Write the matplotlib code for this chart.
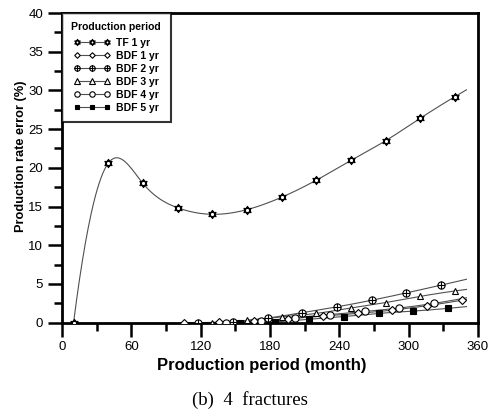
import matplotlib
matplotlib.use('Agg')
import matplotlib.pyplot as plt
import numpy as np
from matplotlib.path import Path
from matplotlib.lines import Line2D

plt.rcParams['font.family'] = ['Liberation Sans', 'DejaVu Sans']

# Data (months, production rate error %)
tf_x = [10, 40, 70, 100, 130, 160, 190, 220, 250, 280, 310, 340]
tf_y = [0.0, 20.6, 18.0, 14.85, 14.0, 14.6, 16.2, 18.4, 20.95, 23.5, 26.4, 29.2]

bdf1_x = [106, 136, 166, 196, 226, 256, 286, 316, 346]
bdf1_y = [0.0, 0.05, 0.2, 0.5, 0.85, 1.2, 1.63, 2.2, 2.9]

bdf2_x = [118, 148, 178, 208, 238, 268, 298, 328]
bdf2_y = [0.0, 0.15, 0.6, 1.3, 2.05, 2.9, 3.85, 4.85]

bdf3_x = [130, 160, 190, 220, 250, 280, 310, 340]
bdf3_y = [0.0, 0.3, 0.75, 1.2, 1.9, 2.6, 3.4, 4.1]

bdf4_x = [142, 172, 202, 232, 262, 292, 322]
bdf4_y = [0.0, 0.2, 0.65, 1.05, 1.45, 1.9, 2.5]

bdf5_x = [154, 184, 214, 244, 274, 304, 334]
bdf5_y = [0.0, 0.1, 0.45, 0.8, 1.2, 1.5, 1.85]

labels = ['TF 1 yr', 'BDF 1 yr', 'BDF 2 yr', 'BDF 3 yr', 'BDF 4 yr', 'BDF 5 yr']
line_end = 350


# cubic spline with parabolic run-out ends (M0 = M1, Mn = Mn-1)
def spline(x, y, xs):
    x = np.asarray(x, float)
    y = np.asarray(y, float)
    n = len(x)
    h = np.diff(x)
    A = np.zeros((n, n))
    b = np.zeros(n)
    A[0, 0], A[0, 1] = 1, -1
    A[-1, -1], A[-1, -2] = 1, -1
    for i in range(1, n - 1):
        A[i, i - 1] = h[i - 1]
        A[i, i] = 2 * (h[i - 1] + h[i])
        A[i, i + 1] = h[i]
        b[i] = 6 * ((y[i + 1] - y[i]) / h[i] - (y[i] - y[i - 1]) / h[i - 1])
    M = np.linalg.solve(A, b)
    idx = np.clip(np.searchsorted(x, xs) - 1, 0, n - 2)
    x0, x1 = x[idx], x[idx + 1]
    hh = x1 - x0
    t0 = x1 - xs
    t1 = xs - x0
    return (M[idx] * t0 ** 3 / (6 * hh) + M[idx + 1] * t1 ** 3 / (6 * hh)
            + (y[idx] / hh - M[idx] * hh / 6) * t0
            + (y[idx + 1] / hh - M[idx + 1] * hh / 6) * t1)


# custom markers
tri_up = [(np.cos(a), np.sin(a)) for a in np.radians([90, 210, 330, 90])]
tri_dn = [(np.cos(a), np.sin(a)) for a in np.radians([270, 30, 150, 270])]
codes = [Path.MOVETO, Path.LINETO, Path.LINETO, Path.CLOSEPOLY]
hexagram = Path.make_compound_path(Path(tri_up, codes), Path(tri_dn, codes))
circ_plus = Path.make_compound_path(
    Path.unit_circle(),
    Path([(-1, 0), (1, 0)], [Path.MOVETO, Path.LINETO]),
    Path([(0, -1), (0, 1)], [Path.MOVETO, Path.LINETO]))

series = [
    (tf_x, tf_y, dict(marker=hexagram, ms=6, mfc='white')),
    (bdf1_x, bdf1_y, dict(marker='D', ms=3.8, mfc='white')),
    (bdf2_x, bdf2_y, dict(marker=circ_plus, ms=5.2, mfc='white')),
    (bdf3_x, bdf3_y, dict(marker='^', ms=5, mfc='white')),
    (bdf4_x, bdf4_y, dict(marker='o', ms=5.2, mfc='white')),
    (bdf5_x, bdf5_y, dict(marker='s', ms=4.2, mfc='black')),
]

fig = plt.figure(figsize=(4.95, 4.12), dpi=100)
ax = fig.add_axes([62 / 495, 1 - 322.7 / 412, 416 / 495, (322.7 - 13) / 412])

line_color = '#505050'
handles = []
for (xs, ys, st), lab in zip(series, labels):
    xx = np.linspace(xs[0], line_end, 400)
    ax.plot(xx, spline(xs, ys, xx), color=line_color, lw=0.8, zorder=2)
    ax.plot(xs, ys, linestyle='none', mec='black', mew=0.8, zorder=3, **st)
    handles.append(Line2D([], [], color=line_color, lw=0.8, mec='black',
                          mew=0.8, label=lab, **st))

ax.set_xlim(0, 360)
ax.set_ylim(0, 40)
ax.set_xticks(np.arange(0, 361, 60))
ax.set_xticks(np.arange(30, 360, 60), minor=True)
ax.set_yticks(np.arange(0, 41, 5))
ax.set_yticks(np.arange(2.5, 40, 5), minor=True)
ax.tick_params(which='major', length=10, width=1.8, labelsize=9.5, direction='out')
ax.tick_params(which='minor', length=6, width=1.8, direction='out')
for sp in ax.spines.values():
    sp.set_linewidth(2)

fig.text(0.529, 0.114, 'Production period (month)', ha='center', va='center',
         fontsize=12, fontweight='bold')
fig.text(0.043, 0.621, 'Production rate error (%)', ha='center', va='center',
         rotation=90, fontsize=9.2, fontweight='bold')
fig.text(0.505, 0.029, '(b)  4  fractures', ha='center', va='center',
         fontsize=13.5, family=['Liberation Serif', 'DejaVu Serif'])

leg = ax.legend(handles=handles, loc='upper left', bbox_to_anchor=(0, 1),
                borderaxespad=0, numpoints=3, handlelength=3.5,
                title='Production period', fancybox=False, markerscale=0.75,
                prop={'weight': 'bold', 'size': 7.5},
                labelspacing=0.28, handletextpad=0.6, borderpad=0.9)
leg.get_title().set_fontweight('bold')
leg.get_title().set_fontsize(7.5)
leg._legend_box.sep = 4
leg.get_frame().set_edgecolor('black')
leg.get_frame().set_linewidth(1.5)

fig.savefig('out.png', dpi=100)
